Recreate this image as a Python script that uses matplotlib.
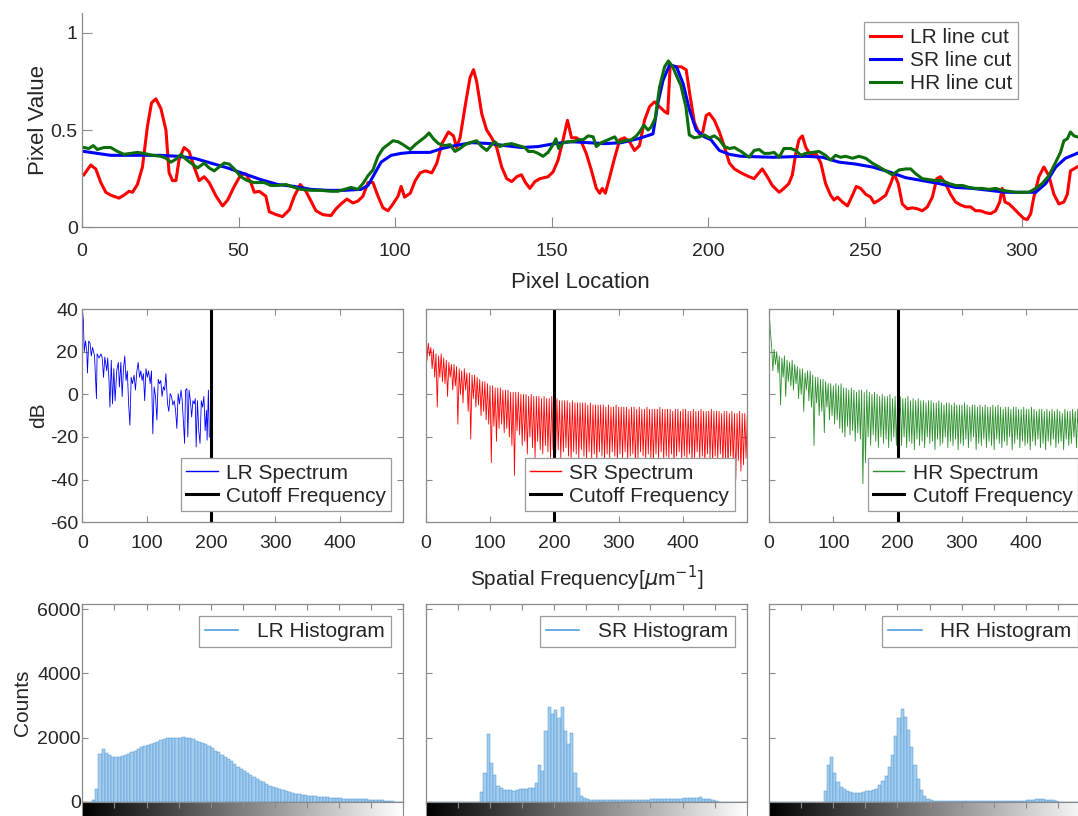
import numpy as np
import matplotlib
matplotlib.use("Agg")
import matplotlib.pyplot as plt

# ---- line cuts (pixel location, pixel value) ----
lr_cut = [
    (0.6, .27), (2.8, .32), (4.4, .30), (6, .23), (7.6, .18), (9.2, .165), (11.8, .15), (13.4, .165),
    (15, .185), (16.1, .18), (17.7, .22), (19.3, .31), (20.9, .52), (22.2, .64), (23.6, .66), (25.2, .61),
    (26.8, .50), (27.8, .28), (28.9, .24), (30, .24), (31, .35), (32.6, .41), (34.2, .39), (35.8, .31),
    (37.4, .24), (39, .26), (40.6, .23), (42.8, .16), (44.9, .11), (46.5, .14), (48.6, .21), (50.7, .27),
    (52.3, .275), (53.9, .23), (55, .18), (56.6, .185), (58.7, .16), (59.8, .08), (62, .065), (64, .055),
    (66.2, .09), (67.8, .16), (69.7, .22), (71.5, .185), (73.1, .135), (74.7, .085), (76.9, .065), (79.5, .06),
    (81.1, .095), (82.7, .12), (84.6, .145), (86.5, .125), (88.1, .135), (89.7, .16), (91.3, .23), (92.9, .23),
    (94.5, .16), (96.1, .10), (97.7, .085), (99.3, .12), (100.9, .16), (101.9, .21), (103, .155), (104.8, .175),
    (106.4, .24), (108, .28), (109.6, .29), (111.7, .28), (113.3, .33), (114.9, .43), (117, .49), (118.6, .47),
    (119.6, .41), (120.7, .46), (122.3, .62), (123.9, .77), (125, .81), (126, .75), (127.6, .585), (129.2, .50),
    (130.8, .46), (132.4, .41), (134, .31), (135.6, .25), (137.2, .235), (138.8, .26), (140.3, .27), (141.6, .23),
    (143, .20), (144.6, .235), (146.2, .25), (148.8, .26), (150.4, .285), (152, .345), (153.6, .45), (155, .55),
    (156.3, .46), (157.9, .46), (159.4, .44), (161, .38), (162.6, .295), (164.2, .20), (165.3, .175), (166.1, .20),
    (167.1, .175), (168.5, .26), (170.1, .36), (171.7, .45), (173.2, .46), (174.8, .44), (176.4, .395), (178, .42),
    (179.6, .55), (181.2, .62), (182.8, .645), (184.4, .62), (186, .595), (187, .585), (187.8, .835), (189.2, .825),
    (191.3, .825), (192.9, .81), (194, .69), (195.5, .54), (197.1, .48), (198.2, .49), (199.3, .575), (200.3, .585),
    (201.9, .55), (203.5, .49), (205.1, .415), (206.7, .33), (208.3, .30), (210.4, .28), (213, .26), (214.6, .25),
    (215.6, .27), (217.2, .30), (218.8, .26), (220.4, .215), (222.6, .18), (224.1, .20), (225.7, .225), (226.8, .27),
    (227.9, .38), (228.9, .45), (230, .47), (231.1, .41), (232.7, .37), (234.3, .38), (235.9, .33), (237.4, .225),
    (239, .165), (240.1, .14), (241.2, .155), (242.8, .13), (244.4, .11), (246, .165), (247.2, .21), (248.6, .20),
    (250.2, .17), (251.8, .155), (252.9, .125), (254.5, .14), (256.6, .165), (258.2, .225), (259.3, .275), (260.6, .225),
    (261.9, .12), (263.5, .095), (265.1, .10), (266.7, .095), (268.3, .085), (269.9, .105), (271.5, .155), (272.9, .25),
    (274.1, .26), (275.7, .225), (277.3, .17), (278.9, .13), (280.5, .115), (282.1, .105), (283.7, .105), (285.3, .085),
    (286.9, .085), (288.5, .075), (290.1, .07), (291.7, .085), (293, .13), (293.8, .20), (294.7, .13), (296, .12),
    (297.6, .095), (299.1, .07), (300.7, .045), (301.8, .04), (302.9, .07), (303.9, .155), (305.5, .26), (307.1, .31),
    (308.7, .265), (310.3, .17), (311.9, .12), (313.5, .13), (314.6, .17), (315.6, .29), (317.7, .31),
]
sr_cut = [
    (0.6, .39), (4.9, .38), (9.2, .37), (14.5, .37), (19.8, .37), (25.2, .37), (30.5, .365), (35.8, .355),
    (41.2, .33), (46.5, .305), (51.8, .275), (57.1, .245), (62.5, .22), (67.8, .21), (73.1, .195), (78.5, .19),
    (83.8, .19), (89.1, .195), (91.3, .215), (93.4, .275), (95.5, .335), (98.7, .37), (101.9, .38), (105.1, .385),
    (111.1, .385), (114.9, .405), (119.1, .42), (124.4, .435), (130.8, .43), (135, .42), (140.3, .41), (145.6, .415),
    (150.9, .43), (156.3, .44), (161.6, .435), (166.9, .43), (172.2, .435), (177.5, .455), (182.3, .48), (183.9, .64),
    (185.5, .755), (187.6, .835), (189.8, .825), (191.9, .74), (194, .60), (196.1, .50), (198.7, .465), (200.8, .45),
    (203.5, .395), (206.7, .375), (210.4, .365), (220.4, .36), (231.1, .365), (236.4, .36), (241.7, .335), (247, .325),
    (252.3, .31), (257.7, .285), (263, .255), (268.3, .24), (273.6, .225), (278.9, .205), (284.3, .20), (289.6, .19),
    (294.9, .18), (300.2, .18), (304.5, .18), (307.7, .225), (310.9, .31), (314, .355), (317.7, .38),
]
hr_cut = [
    (0.6, .41), (2.2, .405), (3.6, .42), (4.9, .40), (7, .41), (9.2, .41), (11.3, .39), (13.4, .375),
    (15.6, .38), (17.7, .385), (19.8, .38), (22.5, .37), (25.2, .365), (26.8, .355), (28.4, .335), (30, .35),
    (31.6, .375), (33.2, .35), (34.8, .33), (36.9, .305), (39, .33), (40.6, .305), (42.2, .29), (43.8, .31),
    (45.4, .33), (47, .325), (48.6, .30), (50.7, .26), (52.8, .24), (55, .23), (58.2, .23), (60.3, .215),
    (62.5, .215), (65.1, .22), (67.8, .205), (69.9, .195), (73.1, .19), (76.3, .19), (79.5, .185), (81.7, .185),
    (83.8, .195), (85.9, .205), (88.1, .195), (89.7, .225), (91.3, .265), (92.9, .295), (94.5, .365), (96.1, .405),
    (97.7, .425), (99.3, .445), (100.9, .44), (102.5, .425), (104.8, .40), (106.4, .425), (108, .445), (109.6, .465),
    (110.8, .485), (112.2, .455), (113.8, .43), (115.9, .42), (117.5, .425), (119.1, .39), (120.7, .405), (122.3, .425),
    (123.9, .435), (126, .445), (127.6, .415), (129.2, .395), (130.8, .425), (131.8, .44), (133.4, .415), (135, .425),
    (137.2, .43), (139.3, .42), (141.4, .41), (142.5, .39), (144.1, .39), (145.6, .38), (147.2, .365), (148.8, .385),
    (150.4, .425), (151.3, .455), (152.2, .405), (153.6, .435), (155.2, .44), (156.8, .44), (158.4, .45), (160, .45),
    (161.6, .47), (163.2, .465), (164.2, .415), (165.8, .435), (168, .45), (170.1, .465), (171.2, .435), (173.2, .445),
    (175.4, .45), (177, .47), (178, .49), (179.4, .525), (180.7, .50), (181.7, .515), (183, .56), (184.4, .72),
    (186, .825), (187.2, .855), (188.6, .825), (190.2, .765), (191.2, .73), (192.8, .62), (193.9, .475), (195.5, .46),
    (197.1, .465), (198.7, .475), (200.3, .46), (201.9, .47), (203.5, .45), (205.1, .415), (206.7, .405), (208.3, .41),
    (210.4, .39), (213, .36), (214.6, .395), (216.2, .40), (217.8, .38), (219.4, .38), (221, .385), (222.6, .36),
    (224.1, .405), (226.3, .405), (227.9, .395), (229.5, .37), (231.1, .38), (233.2, .385), (235.3, .39), (237.4, .37),
    (239, .345), (240.6, .37), (242.2, .36), (243.8, .365), (246, .355), (248.1, .365), (250.2, .355), (252.3, .33),
    (254.5, .31), (256.6, .29), (258.7, .27), (260.9, .295), (263, .30), (264.6, .30), (266.2, .275), (268.3, .25),
    (270.4, .245), (272.6, .24), (274.7, .24), (276.8, .225), (278.9, .215), (281.1, .215), (283.2, .205), (285.3, .20),
    (287.4, .20), (289.6, .195), (291.7, .20), (293.8, .19), (296, .185), (298.1, .18), (300.2, .18), (302.3, .18),
    (304.5, .20), (306.6, .225), (308.7, .265), (310.9, .335), (312.4, .385), (313.5, .445), (314.6, .455), (315.6, .49),
    (316.7, .47), (317.7, .465),
]

# ---- spectra (dB) ----
lr_spec = [
    (0, 40), (1.6, 35), (3, 20), (5, 25), (7, 20), (8, 10), (10, 25), (12, 24), (14, 18), (16, 22),
    (19, 18), (22, -2), (23, 19), (26, 17), (29, 19), (31, 17), (33, 8), (35, 17.5), (38, 11), (39.5, 17),
    (41.5, 6.5), (43, -6), (45, 16), (47, -4.5), (49, 12), (51, -3), (53.5, 11), (56, 15), (57.7, 3.5), (60, 15),
    (62, -1), (64, 12), (66, 18), (68, 6.5), (70, 11), (72, -4.5), (74, -14.5), (76, 8), (78, 5), (80.5, 9),
    (82.6, 2), (84.7, 10.5), (86.8, 15), (89, 8), (91, 11), (93, 6.5), (95, 9.7), (97, -3), (99, 12), (101, 8),
    (103, 11), (105.5, 5), (107.5, 11), (109.6, -18.5), (111.7, 3.5), (113.8, -1), (116, -12), (118, 7), (120, 5), (122, 6.5),
    (124, -1), (126, 3.5), (128, 2), (130, 9.7), (132.5, -4.5), (134.5, -8), (136.6, 0.3), (138.7, -1), (140.8, -5), (143, -3),
    (145, -7.5), (147, -16), (149, 0.3), (151, -4.5), (153.5, 2), (155.3, -3), (157.4, -14), (159, -23), (160.5, 2), (162.6, 2.7),
    (164, -20), (166, 2), (168, -3), (170, -10.6), (172, -3), (174, -4.5), (175.6, -2), (177, -24.7), (179, -3), (181, -17),
    (183, -23), (185, -3), (187, -6), (189, -1), (191, -17), (193, -7.5), (194, -21.5), (196, 2), (197.4, -20),
]
# SR / HR spectra: ripple peaks at f = 0, 4, ..., 500 and dips at f = 2, 6, ..., 498
spec_freq = np.arange(0, 501, 2)
sr_peaks = [40, 24, 22, 21, 19, 18, 19, 17, 16, 15, 14, 14, 13,
            12, 11, 12, 10, 10, 9, 9, 8, 7, 6, 6, 5, 4,
            4, 3, 3, 3, 2, 2, 2, 1, 1, 1, 1, 0,
            0, 0, -1, 0, -1, -1, -1, -2, -1, -2, -2, -1, -2,
            -2, -3, -3, -3, -3, -4, -3, -4, -4, -4, -4, -4,
            -5, -4, -5, -5, -5, -5, -5, -6, -5, -6, -6, -5, -6,
            -6, -6, -6, -7, -6, -6, -7, -6, -7, -7, -6, -7,
            -7, -7, -7, -6, -7, -7, -7, -7, -8, -7, -7, -8, -7,
            -7, -8, -8, -7, -8, -8, -7, -8, -8, -8, -7, -8,
            -8, -8, -9, -8, -8, -9, -8, -9, -9, -8, -9, -9, -9]
sr_dips = [16, 18, 12, 8, -6, 8, 6, 5, -1, 8, 2, 4, -14,
           0, -4, 2, -8, -21, -2, -6, -5, -10, -8, -12, -14,
           -32, -15, -22, -16, -14, -18, -16, -20, -24, -38, -17, -19, -24,
           -22, -28, -20, -25, -30, -22, -26, -28, -24, -27, -30, -26,
           -28, -26, -30, -27, -25, -29, -31, -27, -28, -30, -26, -29, -31,
           -27, -30, -28, -32, -27, -29, -31, -28, -30, -27, -29, -32,
           -28, -30, -27, -31, -29, -28, -33, -30, -27, -29, -31, -28, -30,
           -32, -28, -30, -27, -31, -29, -30, -28, -33, -29, -27, -31,
           -29, -30, -28, -32, -30, -27, -31, -29, -33, -28, -30, -32, -29,
           -31, -28, -33, -30, -35, -29, -32, -40, -31, -36, -33, -30]
hr_peaks = [40, 23, 21, 20, 18, 17, 18, 16, 15, 16, 14, 13, 12,
            12, 10, 11, 11, 9, 8, 8, 7, 7, 6, 5, 5, 4,
            5, 4, 5, 3, 3, 2, 3, 2, 1, 2, 2, 1,
            2, 1, 0, 1, 0, -1, 0, -1, -1, 0, -2, -1, -1,
            -1, -2, -2, -1, -3, -2, -3, -2, -3, -3, -4, -3,
            -3, -4, -4, -3, -4, -5, -4, -4, -5, -4, -5, -5, -5,
            -4, -5, -6, -5, -5, -6, -5, -6, -5, -6, -6, -5,
            -6, -5, -6, -7, -6, -6, -7, -6, -6, -7, -7, -6, -7,
            -7, -6, -7, -8, -7, -7, -8, -7, -8, -7, -8, -7,
            -8, -9, -7, -8, -8, -7, -8, -7, -6, -7, -8, -7, -8]
hr_dips = [30, 11, 14, 10, -5, 8, -1, 6, 4, 2, 5, -2, 0,
           -8, 2, -3, -6, -24, -4, -10, -8, -18, -6, -12, -10,
           -14, -12, -16, -18, -20, -15, -19, -17, -22, -18, -21, -42, -32,
           -20, -24, -19, -22, -25, -20, -23, -21, -25, -22, -20, -24,
           -21, -24, -20, -25, -22, -23, -26, -21, -24, -22, -25, -20, -23,
           -22, -26, -21, -24, -23, -20, -25, -22, -24, -21, -26, -23,
           -24, -21, -25, -22, -20, -26, -23, -24, -21, -25, -22, -24, -26,
           -21, -23, -25, -22, -24, -20, -26, -23, -21, -25, -22, -24,
           -23, -26, -22, -24, -21, -25, -23, -26, -22, -24, -21, -25, -23,
           -22, -26, -21, -24, -23, -20, -25, -22, -19, -24, -21, -18]
cutoff_freq = 200

# ---- histograms: counts in 100 bins over [0, 1] ----
lr_hist = [0, 0, 0, 50, 400, 1500, 1650, 1530, 1450, 1410,
           1400, 1400, 1420, 1470, 1500, 1540, 1580, 1650, 1700, 1740,
           1780, 1810, 1850, 1880, 1920, 1950, 1980, 2000, 1990, 2000,
           1990, 2010, 2000, 1980, 1960, 1900, 1870, 1820, 1790, 1740,
           1680, 1600, 1540, 1470, 1400, 1330, 1260, 1180, 1100, 1030,
           950, 890, 830, 770, 720, 660, 610, 560, 510, 470,
           430, 400, 360, 330, 300, 280, 250, 235, 220, 210,
           200, 190, 175, 165, 160, 150, 140, 130, 120, 115,
           110, 105, 100, 100, 95, 95, 90, 85, 80, 75,
           70, 65, 60, 50, 40, 30, 20, 5, 0, 0]
sr_hist = [0, 0, 0, 0, 0, 0, 0, 0, 0, 0,
           0, 0, 0, 0, 0, 0, 0, 300, 900, 2100,
           1200, 850, 500, 420, 380, 370, 360, 350, 380, 390,
           400, 410, 420, 450, 600, 1150, 950, 2200, 2950, 2750,
           2850, 2600, 2950, 2200, 1800, 2150, 900, 450, 200, 110,
           80, 70, 65, 60, 60, 55, 55, 50, 50, 50,
           55, 55, 60, 60, 65, 65, 70, 70, 70, 75,
           80, 80, 85, 90, 90, 95, 95, 100, 100, 105,
           110, 110, 115, 120, 110, 150, 100, 90, 80, 60,
           20, 0, 0, 0, 0, 0, 0, 0, 0, 0]
hr_hist = [0, 0, 0, 0, 0, 0, 0, 0, 0, 0,
           0, 0, 0, 0, 0, 0, 0, 350, 1150, 1400,
           900, 620, 480, 390, 340, 300, 280, 270, 280, 300,
           330, 340, 360, 400, 520, 650, 820, 1080, 1450, 2050,
           2600, 2900, 2650, 2250, 1700, 1150, 720, 380, 190, 100,
           60, 40, 35, 30, 30, 30, 28, 28, 25, 25,
           25, 25, 25, 25, 25, 25, 25, 25, 25, 25,
           25, 28, 28, 30, 30, 30, 35, 35, 40, 45,
           50, 60, 70, 80, 85, 80, 75, 70, 60, 40,
           0, 0, 0, 0, 0, 0, 0, 0, 0, 0]

plt.rcParams["font.family"] = ["Liberation Sans", "DejaVu Sans"]
plt.rcParams["axes.unicode_minus"] = False

GRAY = "#8a8a8a"
TXT = "#262626"
W, H = 1078, 816


def rect(l, t, r, b):
    return [l / W, 1 - b / H, (r - l) / W, (b - t) / H]


def style(ax, length, pad_x, pad_y):
    for s in ax.spines.values():
        s.set_color(GRAY)
        s.set_linewidth(0.9)
    ax.tick_params(direction="in", length=length, width=0.8, colors=GRAY,
                   labelcolor=TXT, labelsize=14)
    ax.tick_params(axis="x", pad=pad_x)
    ax.tick_params(axis="y", pad=pad_y)


def legend_box(leg):
    leg.get_frame().set_edgecolor("#9a9a9a")
    leg.get_frame().set_linewidth(0.9)
    for t in leg.get_texts():
        t.set_color(TXT)


fig = plt.figure(figsize=(W / 100, H / 100), dpi=100)

# ---- top: line cuts ----
ax = fig.add_axes(rect(82, 13.3, 1078, 227.3))
for data, col, lab in [(lr_cut, "#ff0000", "LR line cut"),
                       (sr_cut, "#0000ff", "SR line cut"),
                       (hr_cut, "#0b6e0b", "HR line cut")]:
    x, v = np.array(data).T
    ax.plot(x, v, color=col, lw=2.2, label=lab)
ax.set_xlim(0, 318)
ax.set_ylim(0, 1.1)
ax.set_xticks(range(0, 301, 50))
ax.set_yticks([0, 0.5, 1])
ax.set_yticklabels(["0", "0.5", "1"])
ax.spines["top"].set_visible(False)
ax.spines["right"].set_visible(False)
style(ax, 7, 11, 3)
ax.set_xlabel("Pixel Location", fontsize=16, color=TXT, labelpad=9)
ax.set_ylabel("Pixel Value", fontsize=16, color=TXT, labelpad=1)
leg = ax.legend(loc="upper right", bbox_to_anchor=(0.94, 0.961), fontsize=15,
                fancybox=False, framealpha=1, borderaxespad=0, handlelength=1.5,
                handletextpad=0.4, labelspacing=0.2, borderpad=0.3)
legend_box(leg)

# ---- middle: spectra ----
def ripple(peaks, dips):
    out = np.empty(len(peaks) + len(dips))
    out[0::2] = peaks
    out[1::2] = dips
    return out

lr_f, lr_db = np.array(lr_spec).T
spectra = [
    (lr_f, lr_db, "#0000ff", "LR Spectrum"),
    (spec_freq, ripple(sr_peaks, sr_dips), "#ff0000", "SR Spectrum"),
    (spec_freq, ripple(hr_peaks, hr_dips), "#2a8f2a", "HR Spectrum"),
]
lefts = [82.3, 425.7, 769]
for i, (f, db, col, lab) in enumerate(spectra):
    ax = fig.add_axes(rect(lefts[i], 309, lefts[i] + 321, 522.3))
    ax.plot(f, db, color=col, lw=0.6, label=lab)
    ax.axvline(cutoff_freq, color="k", lw=2.2, label="Cutoff Frequency")
    ax.set_xlim(0, 499)
    ax.set_ylim(-60, 40)
    ax.set_xticks(range(0, 401, 100))
    ax.set_yticks(range(-60, 41, 20))
    style(ax, 4, 9, 3)
    ax.tick_params(top=True, right=True)
    if i == 0:
        ax.set_ylabel("dB", fontsize=15, color=TXT, labelpad=1)
    else:
        ax.tick_params(labelleft=False)
    if i == 1:
        ax.set_xlabel(r"Spatial Frequency[$\mu$m$^{-1}$]", fontsize=15,
                      color=TXT, labelpad=9)
    leg = ax.legend(loc="lower right", bbox_to_anchor=(0.962, 0.053), fontsize=15,
                    fancybox=False, framealpha=1, borderaxespad=0, handlelength=1.5,
                    handletextpad=0.4, labelspacing=0.2, borderpad=0.25)
    leg.get_lines()[0].set_linewidth(1.0)
    legend_box(leg)

# ---- bottom: histograms ----
bin_centers = 0.005 + 0.01 * np.arange(100)
hists = [(lr_hist, "LR Histogram"), (sr_hist, "SR Histogram"), (hr_hist, "HR Histogram")]
gradient = np.linspace(0, 1, 256)[None, :]
for i, (counts, lab) in enumerate(hists):
    ax = fig.add_axes(rect(lefts[i], 604.3, lefts[i] + 321, 802))
    ax.bar(bin_centers, counts, width=0.01, color="#a3ccee", edgecolor="#4f97d2",
           linewidth=0.35)
    ax.plot([], [], color="#4f9fdc", lw=1.2, label=lab)
    ax.set_xlim(0, 1)
    ax.set_ylim(0, 6150)
    ax.set_yticks(range(0, 6001, 2000))
    ax.set_xticks(np.arange(0, 1.01, 0.1))
    style(ax, 4, 8, 1)
    ax.tick_params(axis="x", top=True, bottom=False, labelbottom=False)
    ax.tick_params(axis="y", right=True)
    if i == 0:
        ax.set_ylabel("Counts", fontsize=15, color=TXT, labelpad=4)
    else:
        ax.tick_params(labelleft=False)
    leg = ax.legend(loc="upper right", bbox_to_anchor=(0.962, 0.942), fontsize=15,
                    fancybox=False, framealpha=1, borderaxespad=0, handlelength=1.6,
                    handletextpad=0.9, borderpad=0.3)
    legend_box(leg)

    cb = fig.add_axes(rect(lefts[i], 802, lefts[i] + 321, 826))
    cb.imshow(gradient, cmap="gray", aspect="auto", extent=[0, 1, 0, 1])
    cb.set_xlim(0, 1)
    cb.set_yticks([])
    cb.set_xticks(np.arange(0, 1.01, 0.1))
    for s in cb.spines.values():
        s.set_color(GRAY)
    cb.tick_params(axis="x", direction="in", length=4, colors=GRAY, top=True,
                   labelbottom=False)

fig.savefig("out.png", dpi=100)
